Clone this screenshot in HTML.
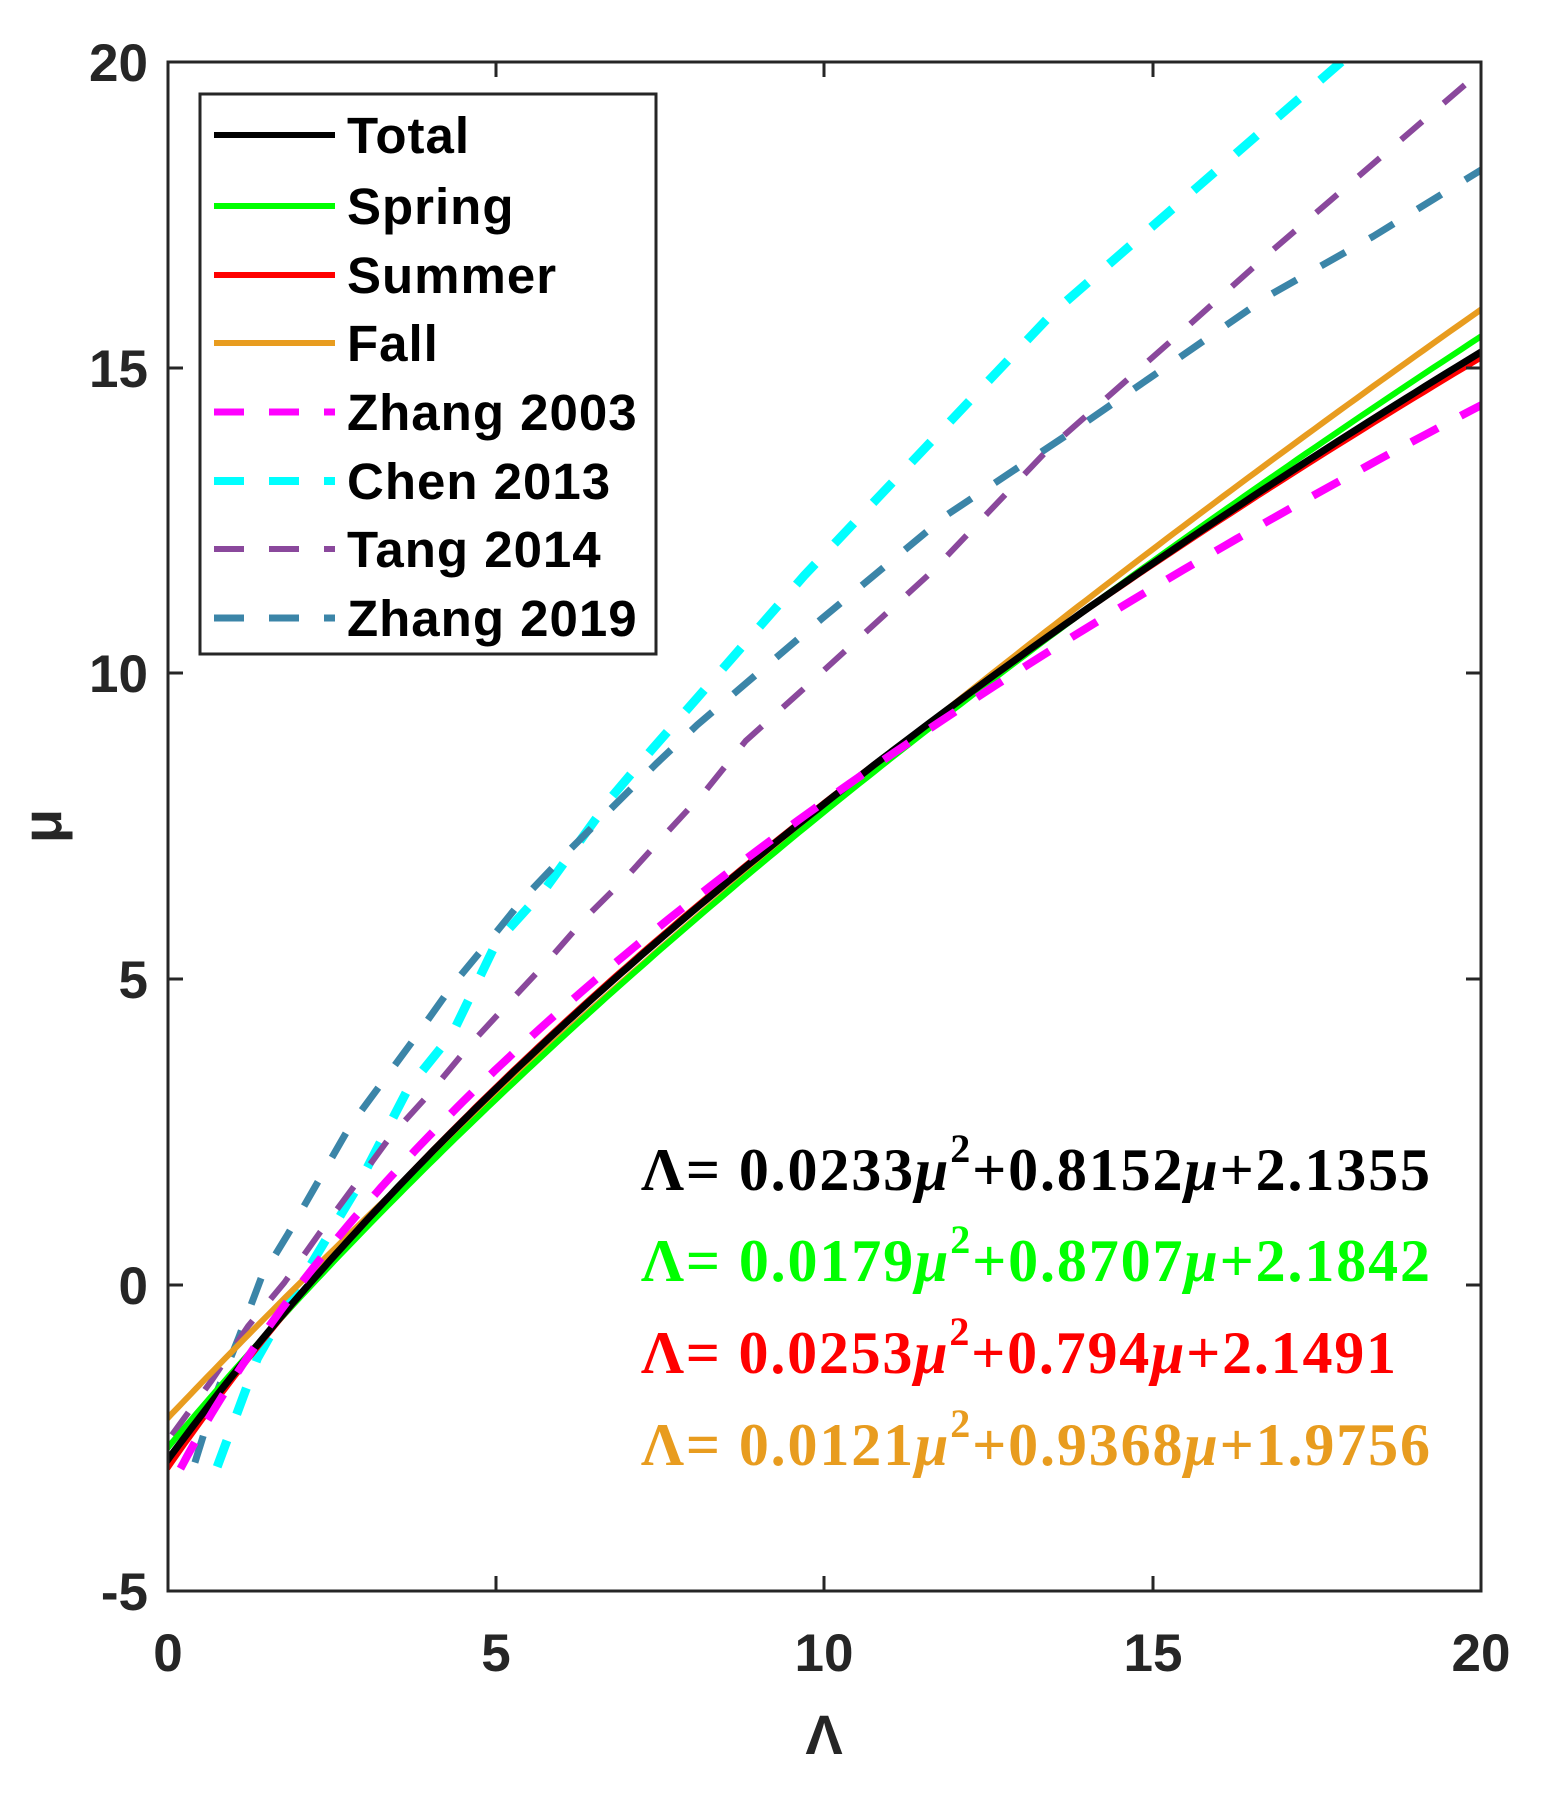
<!DOCTYPE html>
<html><head><meta charset="utf-8"><style>
html,body{margin:0;padding:0;background:#fff;}
svg{display:block;}
.t{font-family:"Liberation Sans",Arial,sans-serif;font-weight:bold;fill:#262626;}
.e{font-family:"Liberation Serif","Times New Roman",serif;font-weight:bold;font-size:60px;}
</style></head><body>
<svg id="s" width="1554" height="1794" viewBox="0 0 1554 1794" xmlns="http://www.w3.org/2000/svg">
<defs><clipPath id="c"><rect x="168" y="62" width="1313" height="1529"/></clipPath></defs>
<rect width="1554" height="1794" fill="#fff"/>
<g id="curves" clip-path="url(#c)"></g>
<g stroke="#262626" stroke-width="3" fill="none">
<rect x="168" y="62" width="1313" height="1529"/>
<path d="M496,1591v-15M824,1591v-15M1153,1591v-15M496,62v15M824,62v15M1153,62v15
M168,1285h15M168,979h15M168,673h15M168,368h15M1481,1285h-15M1481,979h-15M1481,673h-15M1481,368h-15"/>
</g>
<g class="t" font-size="53" text-anchor="middle">
<text x="168" y="1671">0</text><text x="496" y="1671">5</text><text x="824" y="1671">10</text><text x="1153" y="1671">15</text><text x="1481" y="1671">20</text>
</g>
<g class="t" font-size="53" text-anchor="end">
<text x="148" y="1610">-5</text><text x="148" y="1304">0</text><text x="148" y="998">5</text><text x="148" y="692">10</text><text x="148" y="387">15</text><text x="148" y="81">20</text>
</g>
<text class="t" font-size="56" x="824" y="1754" text-anchor="middle">Λ</text>
<text class="t" font-size="56" x="0" y="0" text-anchor="middle" transform="translate(61,826) rotate(-90)">μ</text>
<rect x="200" y="94" width="456" height="560" fill="#fff" stroke="#262626" stroke-width="3"/>
<g stroke-width="6" fill="none">
<path d="M214,135h121" stroke="#000"/>
<path d="M214,206h121" stroke="#00ff00"/>
<path d="M214,275h121" stroke="#ff0000"/>
<path d="M214,343h121" stroke="#e89c1f"/>
<path d="M214,412h121" stroke="#ff00ff" stroke-width="7" stroke-dasharray="30 25"/>
<path d="M214,481h121" stroke="#00ffff" stroke-width="8" stroke-dasharray="30 25"/>
<path d="M214,549h121" stroke="#8a489c" stroke-width="6" stroke-dasharray="30 25"/>
<path d="M214,618h121" stroke="#3b85a8" stroke-width="7" stroke-dasharray="30 25"/>
</g>
<g class="t" font-size="51" style="fill:#000;letter-spacing:1px">
<text x="347" y="153">Total</text>
<text x="347" y="224">Spring</text>
<text x="347" y="293">Summer</text>
<text x="347" y="361">Fall</text>
<text x="347" y="430">Zhang 2003</text>
<text x="347" y="499">Chen 2013</text>
<text x="347" y="567">Tang 2014</text>
<text x="347" y="636">Zhang 2019</text>
</g>
<text class="e" x="641" y="1190" fill="#000" textLength="789">Λ= 0.0233<tspan font-style="italic">μ</tspan><tspan font-size="40" dy="-28">2</tspan><tspan dy="28">+0.8152</tspan><tspan font-style="italic">μ</tspan>+2.1355</text>
<text class="e" x="641" y="1281" fill="#00ff00" textLength="789">Λ= 0.0179<tspan font-style="italic">μ</tspan><tspan font-size="40" dy="-28">2</tspan><tspan dy="28">+0.8707</tspan><tspan font-style="italic">μ</tspan>+2.1842</text>
<text class="e" x="641" y="1373" fill="#ff0000" textLength="755">Λ= 0.0253<tspan font-style="italic">μ</tspan><tspan font-size="40" dy="-28">2</tspan><tspan dy="28">+0.794</tspan><tspan font-style="italic">μ</tspan>+2.1491</text>
<text class="e" x="641" y="1465" fill="#e89c1f" textLength="789">Λ= 0.0121<tspan font-style="italic">μ</tspan><tspan font-size="40" dy="-28">2</tspan><tspan dy="28">+0.9368</tspan><tspan font-style="italic">μ</tspan>+1.9756</text>
</svg>
<script>
(function(){
var g=document.getElementById('curves');
function X(L){return 168+L*65.65;}
function Y(m){return 62+(20-m)*61.16;}
function add(d,col,w,dash){
 var p=document.createElementNS('http://www.w3.org/2000/svg','path');
 p.setAttribute('d',d);p.setAttribute('stroke',col);p.setAttribute('stroke-width',w);
 p.setAttribute('fill','none');p.setAttribute('stroke-linejoin','round');
 if(dash)p.setAttribute('stroke-dasharray',dash);
 g.appendChild(p);
}
function quad(a,b,c,m0,m1){
 var d='';for(var m=m0;m<=m1+1e-9;m+=0.1){var L=a*m*m+b*m+c;d+=(d?'L':'M')+X(L).toFixed(1)+','+Y(m).toFixed(1);}return d;
}
function poly(pts){var d='';pts.forEach(function(p){d+=(d?'L':'M')+X(p[0]).toFixed(1)+','+Y(p[1]).toFixed(1);});return d;}
add(poly([[0.75,-2.97],[1.36,-1.2],[1.96,-0.05],[2.85,1.54],[3.66,3.22],[4.33,4.11],[5.0,5.6],[5.76,6.5],[6.77,8.0],[7.38,8.77],[8.06,9.6],[9.69,11.6],[13.48,15.9],[17.87,20],[18.5,20.6]]),'#00ffff',9,'28 28');
add(poly([[0.41,-2.9],[0.75,-1.73],[1.08,-0.85],[1.42,0.12],[1.83,0.84],[2.3,1.72],[2.77,2.6],[3.32,3.4],[3.8,4.1],[4.33,4.9],[4.87,5.6],[5.42,6.33],[6.1,7.1],[6.7,7.74],[7.45,8.54],[8.06,9.16],[9.96,10.9],[11.87,12.6],[13.83,14.0],[16.8,16.2],[18.36,17.15],[20.1,18.3]]),'#3b85a8',7,'28 28');
add(poly([[0.06,-2.45],[0.67,-1.55],[1.22,-0.67],[1.77,0.04],[2.3,0.84],[2.85,1.64],[3.38,2.42],[3.99,3.14],[4.6,3.93],[5.21,4.64],[5.76,5.27],[6.37,6.02],[6.98,6.67],[7.59,7.39],[8.2,8.1],[8.8,8.9],[9.63,9.7],[11.65,11.68],[13.4,13.66],[15.45,15.6],[16.8,16.9],[19.77,19.64],[20.2,20.0]]),'#8a489c',6,'28 28');
add(quad(0.0121,0.9368,1.9756,-3,16.5),'#e89c1f',6);
add(quad(0.0179,0.8707,2.1842,-3,16.5),'#00ff00',6);
add(quad(0.0253,0.794,2.1491,-3,16.5),'#ff0000',5);
add(quad(0.0233,0.8152,2.1355,-3,16.5),'#000000',7);
add(quad(0.0371,0.7169,2.0058,-3,15),'#ff00ff',8,'30 26');
})();
</script>
</body></html>
